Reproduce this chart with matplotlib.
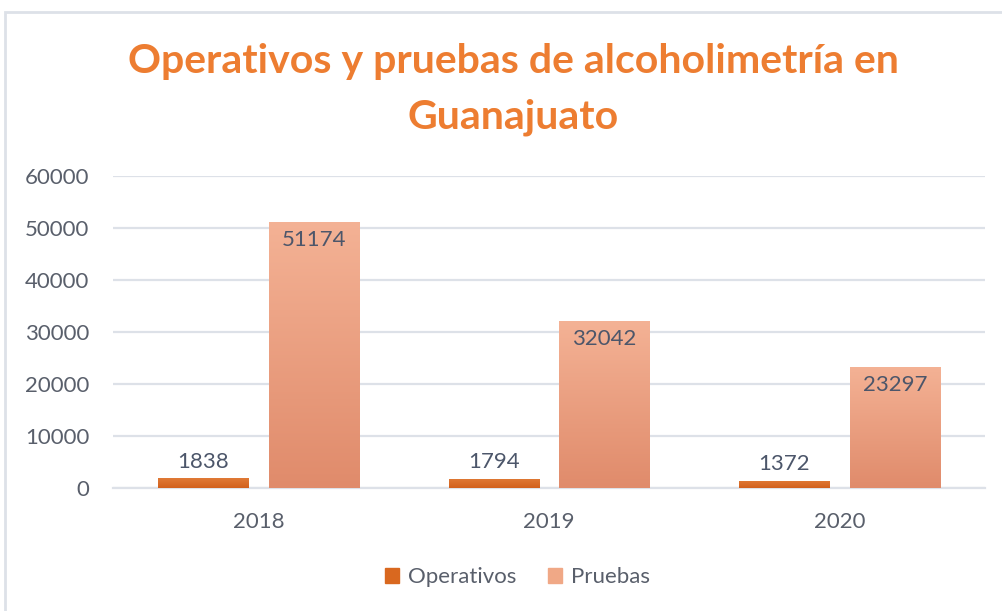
import numpy as np
import matplotlib.pyplot as plt
from matplotlib.patches import Rectangle
from matplotlib.colors import LinearSegmentedColormap

years = ['2018', '2019', '2020']
operativos = [1838, 1794, 1372]
pruebas = [51174, 32042, 23297]

plt.rcParams['font.family'] = ['Lato', 'DejaVu Sans']

fig = plt.figure(figsize=(10.03, 6.11), dpi=100)
ax = fig.add_axes([113/1003, 1-488/611, 872/1003, 312/611])

# chart border (light gray, like the Excel chart area)
fig.patches.append(Rectangle((5/1003, -0.01), 1.1, 1-12/611+0.01, transform=fig.transFigure,
                             fill=False, edgecolor='#dde1e8', lw=2))

x = np.arange(len(years))
w = 0.31
off = 0.19
b1 = ax.bar(x - off, operativos, w, color='#d9681f', edgecolor='#e58a50', lw=0.6, zorder=3)
b2 = ax.bar(x + off, pruebas, w, color='#f0a886', edgecolor='#f4bca3', lw=0.6, zorder=3)

# vertical gradients on bars
cm_o = LinearSegmentedColormap.from_list('o', ['#d2601c', '#e07a37'])
cm_p = LinearSegmentedColormap.from_list('p', ['#e08b6b', '#f4b295'])
grad = np.linspace(0, 1, 256).reshape(-1, 1)
for bars, cm in [(b1, cm_o), (b2, cm_p)]:
    for r in bars:
        x0, y0 = r.get_x(), r.get_y()
        im = ax.imshow(grad, cmap=cm, origin='lower', aspect='auto', zorder=3.5,
                       extent=[x0, x0 + r.get_width(), y0, y0 + r.get_height()])
        im.set_clip_path(r)

lab_c = '#4c566a'
for i in range(len(years)):
    ax.text(x[i] - off, operativos[i] + 1300, str(operativos[i]), ha='center', va='bottom',
            fontsize=16, color=lab_c, zorder=5)
    ax.text(x[i] + off, pruebas[i] - 1500, str(pruebas[i]), ha='center', va='top',
            fontsize=16, color=lab_c, zorder=5)

ax.set_xlim(-0.5, 2.5)
ax.set_ylim(0, 60000)
ax.set_yticks(range(0, 60001, 10000))
ax.set_xticks(x)
ax.set_xticklabels(years)
ax.tick_params(length=0, labelsize=16, colors='#595f6b')
ax.tick_params(axis='y', pad=17)
ax.tick_params(axis='x', pad=17)
ax.grid(axis='y', color='#dde1e8', lw=1.6, zorder=0)
for s in ['top', 'right', 'left']:
    ax.spines[s].set_visible(False)
ax.spines['bottom'].set_color('#dde1e8')
ax.spines['bottom'].set_linewidth(1.6)

fig.text(513/1003, 1-62/611, 'Operativos y pruebas de alcoholimetría en', ha='center', va='center',
         fontsize=29.5, fontweight='bold', color='#ed7d31')
fig.text(513/1003, 1-117/611, 'Guanajuato', ha='center', va='center',
         fontsize=29.5, fontweight='bold', color='#ed7d31')

h1 = Rectangle((0, 0), 1, 1, color='#d9681f')
h2 = Rectangle((0, 0), 1, 1, color='#f0a886')
fig.legend([h1, h2], ['Operativos', 'Pruebas'], loc='center', bbox_to_anchor=(0.516, 1-577/611),
           ncol=2, frameon=False, fontsize=16, labelcolor='#595f6b', handlelength=0.65,
           handleheight=0.65, handletextpad=0.4, columnspacing=1.4)

fig.savefig('out.png', dpi=100)
